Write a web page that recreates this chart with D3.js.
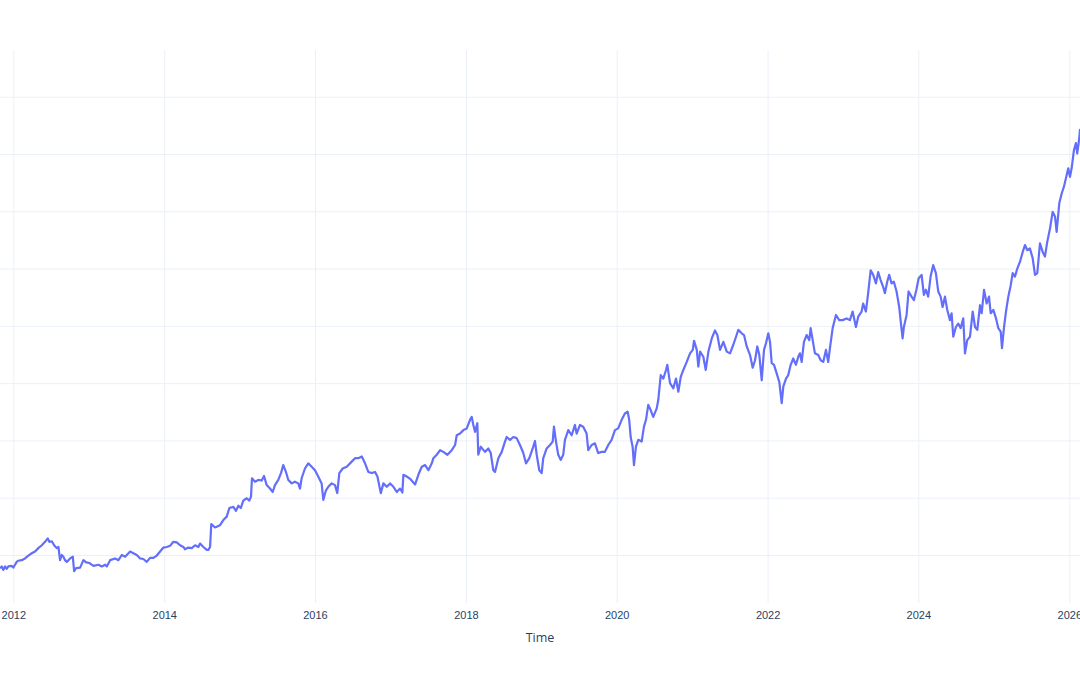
<!DOCTYPE html>
<html>
<head>
<meta charset="utf-8">
<script src="https://d3js.org/d3.v7.min.js"></script>
<style>
  body { margin: 0; background: #fff; }
  svg { display: block; font-family: "Open Sans", verdana, arial, sans-serif; }
</style>
</head>
<body>
<div id="chart"></div>
<script>
// time as decimal years, close values
var years = [
  2011.824, 2011.846, 2011.867, 2011.890, 2011.913, 2011.934, 2011.979, 2012.000, 2012.023, 2012.045,
  2012.066, 2012.111, 2012.155, 2012.199, 2012.244, 2012.288, 2012.331, 2012.377, 2012.420, 2012.456,
  2012.477, 2012.509, 2012.540, 2012.575, 2012.597, 2012.619, 2012.642, 2012.663, 2012.685, 2012.708,
  2012.752, 2012.787, 2012.805, 2012.831, 2012.884, 2012.928, 2012.964, 2013.008, 2013.061, 2013.127,
  2013.172, 2013.216, 2013.238, 2013.282, 2013.348, 2013.392, 2013.437, 2013.481, 2013.547, 2013.591,
  2013.636, 2013.680, 2013.723, 2013.768, 2013.812, 2013.856, 2013.901, 2013.945, 2013.989, 2014.034,
  2014.077, 2014.121, 2014.166, 2014.210, 2014.254, 2014.276, 2014.320, 2014.365, 2014.409, 2014.453,
  2014.475, 2014.519, 2014.564, 2014.585, 2014.608, 2014.624, 2014.674, 2014.740, 2014.784, 2014.829,
  2014.864, 2014.917, 2014.952, 2014.983, 2015.015, 2015.049, 2015.094, 2015.129, 2015.151, 2015.164,
  2015.204, 2015.248, 2015.293, 2015.324, 2015.359, 2015.403, 2015.439, 2015.469, 2015.513, 2015.549,
  2015.579, 2015.615, 2015.646, 2015.691, 2015.734, 2015.778, 2015.801, 2015.823, 2015.867, 2015.911,
  2015.956, 2016.000, 2016.043, 2016.088, 2016.110, 2016.145, 2016.176, 2016.221, 2016.265, 2016.295,
  2016.322, 2016.367, 2016.420, 2016.486, 2016.530, 2016.574, 2016.619, 2016.662, 2016.706, 2016.751,
  2016.795, 2016.826, 2016.871, 2016.905, 2016.950, 2016.994, 2017.038, 2017.083, 2017.126, 2017.157,
  2017.170, 2017.215, 2017.259, 2017.325, 2017.369, 2017.414, 2017.458, 2017.502, 2017.547, 2017.568,
  2017.613, 2017.657, 2017.700, 2017.754, 2017.812, 2017.856, 2017.878, 2017.922, 2017.966, 2018.011,
  2018.054, 2018.077, 2018.098, 2018.121, 2018.151, 2018.164, 2018.196, 2018.253, 2018.297, 2018.329,
  2018.363, 2018.386, 2018.430, 2018.475, 2018.518, 2018.541, 2018.585, 2018.629, 2018.673, 2018.717,
  2018.761, 2018.797, 2018.841, 2018.886, 2018.916, 2018.939, 2018.973, 2019.005, 2019.026, 2019.071,
  2019.115, 2019.151, 2019.168, 2019.195, 2019.225, 2019.257, 2019.291, 2019.314, 2019.358, 2019.403,
  2019.446, 2019.469, 2019.513, 2019.556, 2019.601, 2019.623, 2019.668, 2019.712, 2019.755, 2019.800,
  2019.844, 2019.888, 2019.933, 2019.977, 2020.020, 2020.066, 2020.109, 2020.145, 2020.166, 2020.185,
  2020.211, 2020.229, 2020.255, 2020.286, 2020.331, 2020.361, 2020.388, 2020.418, 2020.450, 2020.484,
  2020.530, 2020.551, 2020.583, 2020.617, 2020.653, 2020.670, 2020.706, 2020.750, 2020.785, 2020.816,
  2020.848, 2020.882, 2020.927, 2020.971, 2021.007, 2021.024, 2021.060, 2021.081, 2021.104, 2021.147,
  2021.179, 2021.214, 2021.259, 2021.302, 2021.333, 2021.369, 2021.413, 2021.458, 2021.501, 2021.545,
  2021.581, 2021.611, 2021.656, 2021.687, 2021.723, 2021.767, 2021.802, 2021.833, 2021.863, 2021.890,
  2021.922, 2021.952, 2021.979, 2022.009, 2022.032, 2022.054, 2022.085, 2022.120, 2022.155, 2022.187,
  2022.208, 2022.244, 2022.274, 2022.306, 2022.340, 2022.376, 2022.407, 2022.429, 2022.452, 2022.482,
  2022.518, 2022.553, 2022.571, 2022.598, 2022.628, 2022.672, 2022.704, 2022.738, 2022.774, 2022.804,
  2022.827, 2022.863, 2022.907, 2022.950, 2022.995, 2023.048, 2023.092, 2023.128, 2023.172, 2023.202,
  2023.247, 2023.268, 2023.304, 2023.334, 2023.367, 2023.401, 2023.437, 2023.467, 2023.499, 2023.533,
  2023.556, 2023.587, 2023.613, 2023.645, 2023.675, 2023.711, 2023.746, 2023.764, 2023.791, 2023.808,
  2023.844, 2023.870, 2023.910, 2023.941, 2023.974, 2024.004, 2024.043, 2024.073, 2024.100, 2024.130,
  2024.162, 2024.196, 2024.232, 2024.263, 2024.295, 2024.321, 2024.352, 2024.382, 2024.418, 2024.440,
  2024.462, 2024.497, 2024.528, 2024.560, 2024.594, 2024.617, 2024.647, 2024.683, 2024.719, 2024.750,
  2024.780, 2024.816, 2024.838, 2024.869, 2024.904, 2024.935, 2024.957, 2024.992, 2025.028, 2025.058,
  2025.090, 2025.107, 2025.134, 2025.160, 2025.191, 2025.223, 2025.249, 2025.279, 2025.310, 2025.346,
  2025.382, 2025.412, 2025.443, 2025.478, 2025.514, 2025.545, 2025.575, 2025.611, 2025.647, 2025.677,
  2025.708, 2025.744, 2025.779, 2025.810, 2025.832, 2025.867, 2025.899, 2025.929, 2025.956, 2025.986,
  2026.009, 2026.031, 2026.062, 2026.088, 2026.105, 2026.132, 2026.141, 2026.170
];

var closes = [
  17.7, 18.0, 17.4, 18.0, 17.6, 18.0, 18.1, 17.8, 18.3, 18.8,
  19.0, 19.1, 19.4, 19.9, 20.3, 20.6, 21.2, 21.7, 22.3, 22.9,
  22.3, 22.4, 21.7, 21.2, 21.4, 19.1, 20.0, 19.7, 19.1, 18.8,
  19.4, 19.7, 17.2, 17.7, 17.8, 19.1, 18.7, 18.6, 18.1, 18.3,
  18.0, 18.3, 18.0, 19.1, 19.4, 19.1, 20.0, 19.7, 20.6, 20.3,
  20.0, 19.4, 19.3, 18.8, 19.5, 19.5, 19.9, 20.6, 21.3, 21.4,
  21.6, 22.3, 22.2, 21.7, 21.4, 21.0, 21.3, 21.2, 21.7, 21.4,
  22.0, 21.4, 20.9, 20.9, 21.4, 25.4, 24.8, 25.2, 26.1, 26.7,
  28.2, 28.4, 27.7, 28.6, 28.2, 29.5, 29.9, 29.5, 30.2, 33.4,
  32.8, 33.1, 33.0, 33.8, 32.2, 31.6, 31.0, 32.2, 33.1, 34.3,
  35.7, 34.5, 33.1, 32.5, 32.8, 32.5, 31.6, 33.4, 35.1, 36.0,
  35.4, 34.8, 33.7, 32.5, 29.6, 31.3, 31.9, 32.5, 32.2, 30.8,
  34.3, 35.1, 35.4, 36.3, 36.9, 36.9, 37.2, 36.0, 34.5, 34.3,
  34.5, 33.7, 30.8, 32.5, 31.9, 32.5, 31.9, 31.0, 31.6, 30.9,
  34.0, 33.7, 33.3, 32.3, 34.0, 35.4, 35.7, 34.8, 36.0, 36.9,
  37.5, 38.3, 38.0, 37.5, 38.3, 39.2, 40.9, 41.2, 41.8, 42.1,
  43.6, 44.1, 42.7, 41.5, 43.0, 37.5, 38.9, 38.0, 38.6, 37.8,
  34.8, 34.5, 36.9, 38.0, 39.8, 40.6, 40.1, 40.6, 40.4, 39.2,
  37.8, 36.0, 36.9, 38.6, 39.9, 37.5, 34.8, 34.3, 36.9, 38.6,
  39.2, 39.8, 42.4, 39.8, 37.5, 36.6, 37.5, 40.1, 41.8, 40.9,
  42.7, 41.2, 42.7, 42.4, 41.2, 38.3, 39.2, 39.5, 37.8, 38.0,
  38.0, 39.2, 40.1, 41.8, 42.1, 43.6, 44.7, 45.0, 43.6, 40.6,
  38.9, 35.7, 38.9, 40.1, 39.8, 42.4, 43.6, 46.2, 45.3, 44.1,
  45.6, 47.1, 51.4, 50.8, 52.3, 53.2, 50.0, 49.1, 50.8, 48.5,
  51.1, 52.3, 53.7, 55.2, 55.8, 57.4, 55.8, 52.9, 55.5, 54.6,
  52.3, 55.5, 57.8, 59.2, 58.4, 55.8, 57.2, 55.5, 55.2, 56.7,
  58.1, 59.3, 58.7, 58.4, 56.4, 54.9, 52.7, 54.0, 56.4, 54.9,
  50.5, 55.8, 57.0, 58.7, 57.2, 53.5, 53.2, 51.7, 50.2, 46.5,
  49.4, 50.8, 51.4, 53.2, 54.3, 53.2, 54.6, 55.2, 53.7, 57.2,
  58.4, 57.5, 59.6, 57.5, 55.2, 54.9, 54.0, 53.7, 55.8, 53.7,
  56.1, 59.6, 61.9, 61.0, 61.0, 61.3, 61.0, 62.5, 59.8, 61.6,
  62.5, 63.9, 62.5, 65.7, 69.7, 68.9, 67.4, 69.4, 68.0, 66.8,
  65.7, 67.7, 68.9, 67.4, 67.7, 66.0, 63.3, 61.0, 57.8, 59.8,
  61.9, 66.0, 65.1, 64.5, 66.3, 68.3, 68.9, 65.4, 66.3, 65.1,
  68.6, 70.6, 69.2, 66.0, 65.1, 63.3, 65.1, 62.8, 61.0, 62.2,
  58.1, 59.8, 60.4, 59.6, 61.3, 55.2, 57.5, 58.1, 62.5, 59.8,
  59.3, 63.6, 62.2, 66.3, 63.9, 65.1, 62.2, 62.8, 61.3, 59.6,
  59.0, 56.1, 59.8, 62.5, 65.1, 67.1, 69.2, 68.6, 70.0, 71.2,
  72.9, 74.1, 73.2, 73.5, 71.8, 68.9, 69.2, 74.4, 72.9, 72.1,
  74.7, 77.0, 79.9, 79.1, 76.4, 81.4, 83.1, 84.3, 85.8, 87.5,
  86.0, 87.5, 90.7, 91.9, 90.1, 92.7, 94.2, 93.5
];

var yearTicks = [2012, 2014, 2016, 2018, 2020, 2022, 2024, 2026];
var valueTicks = [20, 30, 40, 50, 60, 70, 80, 90, 100];
var xTitle = "Time";

// decimal year -> Date
function toDate(t) {
  var yr = Math.floor(t);
  var a = Date.UTC(yr, 0, 1), b = Date.UTC(yr + 1, 0, 1);
  return new Date(a + (t - yr) * (b - a));
}

var data = years.map(function (t, i) { return { date: toDate(t), close: closes[i] }; });

var width = 1080, height = 675;
var plotTop = 50, plotBottom = 603;

var svg = d3.select("#chart")
  .append("svg")
  .attr("width", width)
  .attr("height", height);

svg.append("rect")
  .attr("width", width)
  .attr("height", height)
  .attr("fill", "#fff");

// X scale: the plot is wider than the window, so 2012 sits near the left edge
var x = d3.scaleUtc()
  .domain([toDate(2012), toDate(2026)])
  .range([13.3, 1069.3]);

// Y scale (axis labels fall outside the window)
var y = d3.scaleLinear()
  .domain([20, 100])
  .range([555, 96.7]);

// horizontal grid
svg.append("g")
  .attr("class", "ygrid")
  .call(d3.axisRight(y).tickValues(valueTicks).tickSize(width).tickFormat(""))
  .call(function (g) { g.select(".domain").remove(); })
  .selectAll("line")
  .attr("stroke", "#ebf0f8")
  .attr("stroke-width", 1);

// vertical grid
svg.append("g")
  .attr("class", "xgrid")
  .attr("transform", "translate(0," + plotBottom + ")")
  .call(d3.axisBottom(x)
    .tickValues(yearTicks.map(toDate))
    .tickSize(-(plotBottom - plotTop))
    .tickFormat(""))
  .call(function (g) { g.select(".domain").remove(); })
  .selectAll("line")
  .attr("stroke", "#ebf0f8")
  .attr("stroke-width", 1);

// x tick labels
var xAxis = svg.append("g")
  .attr("transform", "translate(0," + plotBottom + ")")
  .call(d3.axisBottom(x)
    .tickValues(yearTicks.map(toDate))
    .tickSize(0)
    .tickPadding(8)
    .tickFormat(d3.utcFormat("%Y")));
xAxis.select(".domain").remove();
xAxis.selectAll("text")
  .attr("fill", "#2a3f5f")
  .style("font-size", "11px");

// axis title
svg.append("text")
  .attr("x", 540)
  .attr("y", 642)
  .attr("text-anchor", "middle")
  .attr("fill", "#2a3f5f")
  .style("font-size", "12.5px")
  .text(xTitle);

// clip to plot area
svg.append("clipPath")
  .attr("id", "plotclip")
  .append("rect")
  .attr("x", 0)
  .attr("y", plotTop)
  .attr("width", width)
  .attr("height", plotBottom - plotTop);

var line = d3.line()
  .x(function (d) { return x(d.date); })
  .y(function (d) { return y(d.close); });

svg.append("path")
  .datum(data)
  .attr("clip-path", "url(#plotclip)")
  .attr("fill", "none")
  .attr("stroke", "#636efa")
  .attr("stroke-width", 2.2)
  .attr("stroke-linejoin", "round")
  .attr("d", line);
</script>
</body>
</html>
